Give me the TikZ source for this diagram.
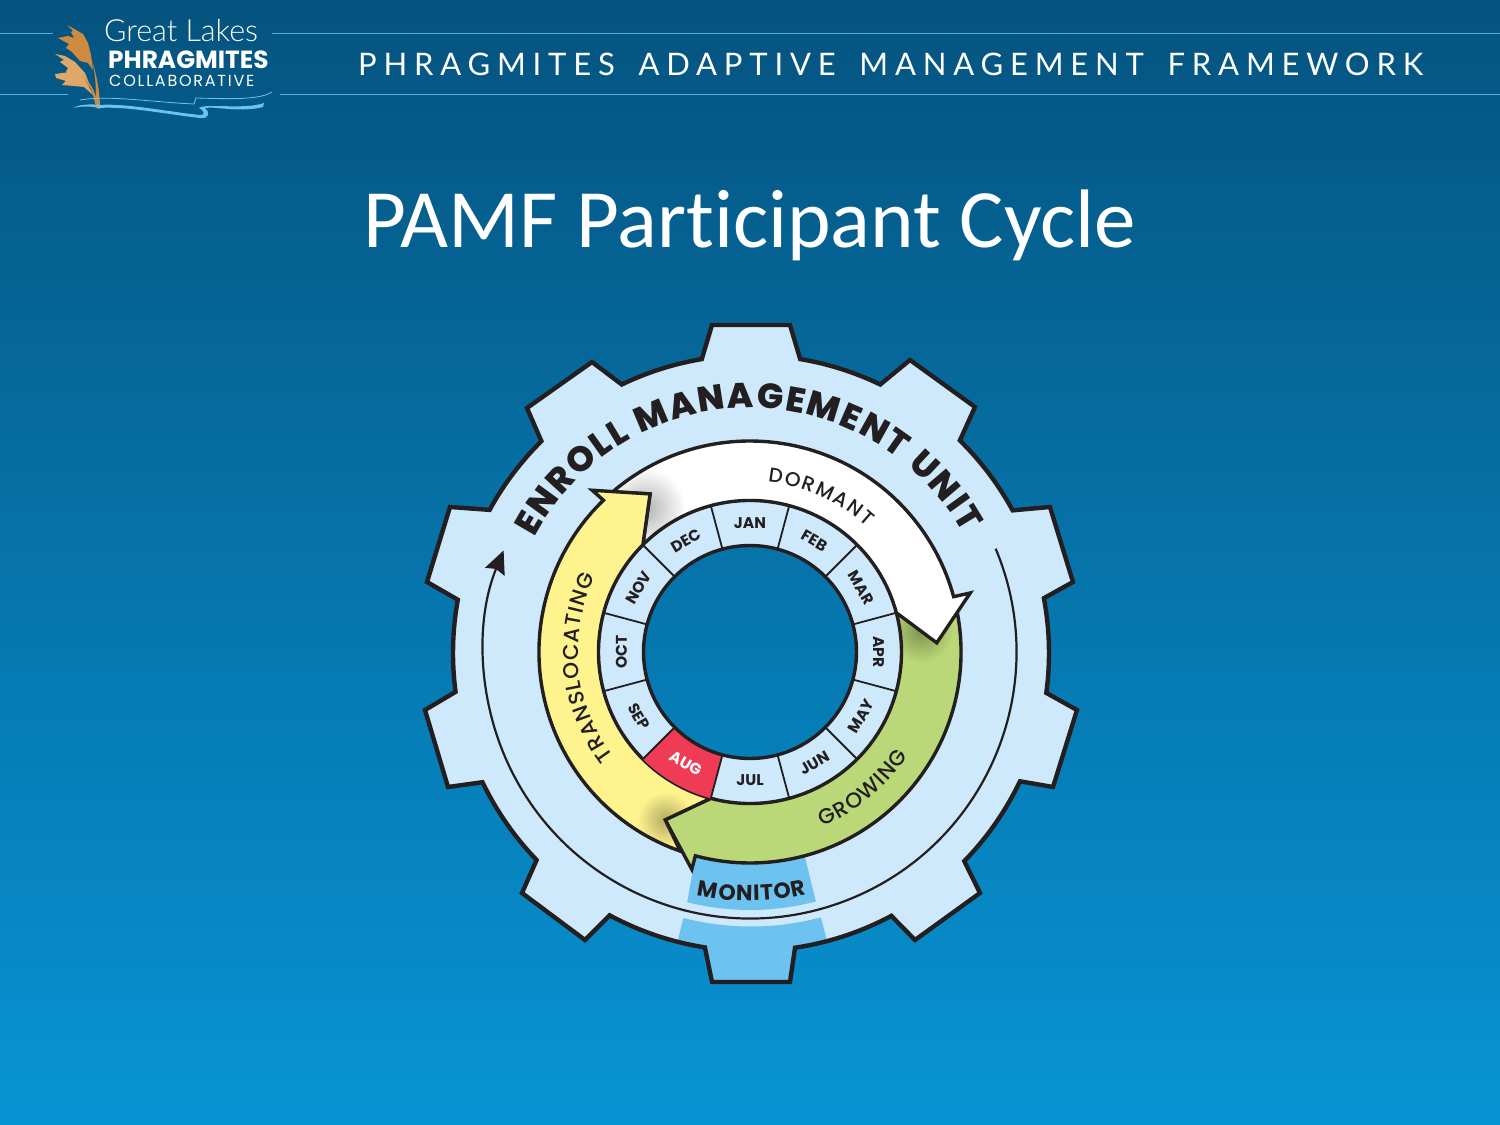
\documentclass[tikz,border=0pt]{standalone}
\usepackage{fontspec}
\usetikzlibrary{arrows.meta,decorations.text}
\setmainfont{Carlito}[Ligatures=NoCommon]
\newfontfamily\gearfont{Poppins}
\newfontfamily\gearmed{Poppins Medium}
\newfontfamily\gearheavy{Poppins ExtraBold}
\newfontfamily\headfont{Lato}[WordSpace=1.6]
\newfontfamily\logolight{Lato Light}
\definecolor{ink}{HTML}{231F20}
\definecolor{gearblue}{HTML}{CDE9FB}
\definecolor{monblue}{HTML}{6EC2F0}
\definecolor{ylw}{HTML}{FFF38E}
\definecolor{grn}{HTML}{BBD878}
\definecolor{augred}{HTML}{EF3B55}
\definecolor{bgtop}{HTML}{05537F}
\definecolor{bgbot}{HTML}{0794D4}
\definecolor{hline}{HTML}{55AEE0}
\definecolor{plumeA}{HTML}{CE8B40}
\definecolor{plumeB}{HTML}{DFA768}
\pgfdeclareradialshading{softwhite}{\pgfpointorigin}{color(0bp)=(black!30!white); color(25bp)=(white); color(50bp)=(white)}
\pgfdeclareradialshading{softgreen}{\pgfpointorigin}{color(0bp)=(black!32!grn); color(25bp)=(grn); color(50bp)=(grn)}
\pgfdeclareradialshading{softyellow}{\pgfpointorigin}{color(0bp)=(black!30!ylw); color(25bp)=(ylw); color(50bp)=(ylw)}
\tikzset{
  outline/.style={draw=ink,line width=3.4pt,line join=miter,miter limit=10},
  gearline/.style={draw=ink,line width=4.4pt,line join=miter,miter limit=10},
  divider/.style={draw=ink,line width=1.8pt},
  monthlabel/.style={font=\gearfont\bfseries\fontsize{15.5}{16}\selectfont,text=ink,inner sep=0pt},
}
\newcommand\gearoutline{(-39,328) -- (39,328) -- (80.5:298) arc[start angle=80.5,end angle=64.3,radius=298]
  -- (159,293) -- (224,246) -- (45.5:298) arc[start angle=45.5,end angle=28.6,radius=298]
  -- (299,146) -- (322,71) -- (10.6:298) arc[start angle=10.6,end angle=-7.7,radius=298]
  -- (326,-57) -- (302,-134) -- (-25.5:298) arc[start angle=-25.5,end angle=-44.3,radius=298]
  -- (229,-240) -- (164,-287) -- (-61.9:298) arc[start angle=-61.9,end angle=-81.5,radius=298]
  -- (39,-329) -- (-39,-329) -- (-98.9:298) arc[start angle=-98.9,end angle=-118.3,radius=298]
  -- (-166,-287) -- (-229,-240) -- (-136:298) arc[start angle=-136,end angle=-154.3,radius=298]
  -- (-303,-134) -- (-326,-57) -- (-172.5:298) arc[start angle=-172.5,end angle=-190.3,radius=298]
  -- (-324,71) -- (-301,146) -- (151.3:298) arc[start angle=151.3,end angle=134.7,radius=298]
  -- (-224,245) -- (-159,291) -- (115.7:298) arc[start angle=115.7,end angle=99.5,radius=298] -- cycle}
\newcommand\whitearrow{(130.6:211) arc[start angle=130.6,end angle=15.2,radius=211] -- (15:228) -- (2.8:187) -- (15:151.5)
  arc[start angle=15,end angle=135,radius=151.5] -- (122.3:187) -- cycle}
\newcommand\greenarrow{(15:211) arc[start angle=15,end angle=-105,radius=211] -- (255:225) -- (243.2:188) -- (255:151.5)
  arc[start angle=255,end angle=375,radius=151.5] -- cycle}
\newcommand\yellowarrow{(134.3:226) -- (122.3:187) -- (135:151.5) arc[start angle=135,end angle=255,radius=151.5]
  -- (243.2:188) -- (250.7:211) arc[start angle=250.7,end angle=134,radius=211] -- cycle}
\begin{document}
\begin{tikzpicture}[x=1pt,y=1pt]
\useasboundingbox (0,0) rectangle (1500,1125);
\shade[top color=bgtop,bottom color=bgbot] (0,0) rectangle (1500,1125);

% header and logo, in pixel coordinates
\begin{scope}[shift={(0,1125)},yscale=-1]
  \coordinate (la) at (0,34); \coordinate (lb) at (53,34);
  \coordinate (lc) at (272,34); \coordinate (ld) at (1500,34);
  \coordinate (le) at (0,95); \coordinate (lf) at (68,95);
  \coordinate (lg) at (280,95); \coordinate (lh) at (1500,95);
  \draw[hline,line width=1pt] (la) -- (lb) (lc) -- (ld) (le) -- (lf) (lg) -- (lh);
  \fill[plumeB] (55,54) -- (65,56) -- (75,62) -- (85,73) -- (91,88) -- (85,81) -- (75,79) -- (66,72) -- (68,68) -- (60,62) -- (64,60) -- cycle;
  \fill[plumeB] (55,74) -- (70,72) -- (80,75) -- (88,85) -- (93,95) -- (84,87) -- (74,86) -- (62,85) -- (66,81) -- (56,78) -- cycle;
  \fill[plumeA] (67,25) -- (76,30) -- (83,34) -- (88,43) -- (91,55) -- (93,70) -- (88,63) -- (80,61) -- (72,52) -- (66,48) -- (69,44) -- (58,38) -- (68,36) -- (74,38) -- (71,32) -- (73,31) -- cycle;
  \fill[plumeA] (92,60) .. controls (98,80) and (100,95) .. (100,109) -- (96,108) .. controls (93,92) and (90,84) .. (82,76) .. controls (91,83) and (94,90) .. (96,98) .. controls (96,85) and (95,72) .. cycle;
  \fill[monblue] (73,108) .. controls (80,104) and (92,104) .. (100,105) .. controls (125,103) and (170,112) .. (200,115) .. controls (206,116) and (204,110) .. (199,108) .. controls (205,103) and (245,110) .. (264,103) -- (263,107) .. controls (240,113) and (215,106) .. (205,108) .. controls (210,112) and (210,119) .. (200,118) .. controls (165,114) and (125,106) .. (100,108) .. controls (90,106) and (82,106) .. cycle;
  \draw[monblue,line width=.8pt] (80,100) .. controls (110,95) and (150,102) .. (194,104) -- (196,98) .. controls (230,99) and (260,100) .. (272,92);
  \node[inner sep=0pt,anchor=base west,text=white] (logoA) at (104,42) {\logolight\fontsize{30.5}{30}\selectfont Great Lakes};
  \node[inner sep=0pt,anchor=base west,text=white] (logoB) at (108,69) {\gearfont\bfseries\fontsize{24.8}{30}\selectfont PHRAGMITES};
  \node[inner sep=0pt,anchor=base west,text=white] (logoC) at (109,87) {\gearfont\fontsize{16}{20}\selectfont\addfontfeature{LetterSpace=11}COLLABORATIVE};
  \node[inner sep=0pt,anchor=base west,text=white] (head) at (358,76) {\headfont\fontsize{31}{34}\selectfont\addfontfeature{LetterSpace=22}PHRAGMITES ADAPTIVE MANAGEMENT FRAMEWORK};
  \node[inner sep=0pt,anchor=base,text=white] (title) at (750,248) {\fontsize{83}{90}\selectfont PAMF Participant Cycle};
\end{scope}

% gear body
\begin{scope}[shift={(751,472)}]
  \fill[gearblue,even odd rule] \gearoutline (-1,1) circle[radius=106.5];
  \begin{scope}
    \clip \gearoutline;
    \fill[monblue] (255.7:273.5) arc[start angle=255.7,end angle=284.8,radius=273.5] -- (284.8:420) -- (255.7:420) -- cycle;
  \end{scope}
  \path[gearline] \gearoutline;
\end{scope}

\begin{scope}[shift={(750,473)}]
  % cycle arrow
  \coordinate (cycA) at (22.8:266.5);
  \draw[ink,line width=2.2pt,-{Stealth[length=23pt,width=21pt,inset=3pt]}] (cycA) arc[start angle=22.8,end angle=-202.4,radius=266.5];

  % monitor band
  \fill[monblue] (-105:211) arc[start angle=-105,end angle=-75,radius=211] -- (-75.2:258) arc[start angle=-75.2,end angle=-104.1,radius=258] -- cycle;

  % three phases
  \fill[grn] \greenarrow;
  \begin{scope}\clip \greenarrow; \shade[shading=softgreen] (7:172) circle[radius=32]; \end{scope}
  \path[outline] \greenarrow;
  \fill[white] \whitearrow;
  \begin{scope}\clip \whitearrow; \shade[shading=softwhite] (126:178) circle[radius=40]; \end{scope}
  \path[outline] \whitearrow;
  \fill[ylw] \yellowarrow;
  \begin{scope}\clip \yellowarrow; \shade[shading=softyellow] (243.2:188) circle[radius=28]; \end{scope}
  \path[outline] \yellowarrow;

  % month ring
  \fill[augred] (-105:151.5) arc[start angle=-105,end angle=-135,radius=151.5] -- (-135:106.5) arc[start angle=-135,end angle=-105,radius=106.5] -- cycle;
  \foreach \a in {15,45,...,345} {\draw[divider] (\a:106.5) -- (\a:151.5);}
  \draw[outline] (0,0) circle[radius=106.5];
  \foreach \m/\a/\r in {JAN/90/0,FEB/60/-30,MAR/30/-60,APR/0/-90,MAY/-30/60,JUN/-60/30,JUL/-90/0,SEP/-150/-60,OCT/180/90,NOV/150/60,DEC/120/30}
    {\node[monthlabel,rotate=\r] (m\m) at (\a:128.5) {\m};}
  \node[monthlabel,rotate=-30,text=white] (mAUG) at (-120:128.5) {AUG};

  % curved labels
  \path[decorate,decoration={text along path,text align={fit to path},
    text={|\gearheavy\fontsize{35}{36}\selectfont\color{ink}|ENROLL MANAGEMENT UNIT}}]
    (152:244) arc[start angle=152,end angle=29,radius=244];
  \path[decorate,decoration={text along path,text align={fit to path},
    text={|\gearmed\fontsize{20}{20}\selectfont\color{ink}|DORMANT}}]
    (84:171) arc[start angle=84,end angle=47,radius=171];
  \path[decorate,decoration={text along path,text align={fit to path},
    text={|\gearmed\fontsize{21.5}{22}\selectfont\color{ink}|TRANSLOCATING}}]
    (217.3:172) arc[start angle=217.3,end angle=154,radius=172];
  \path[decorate,decoration={text along path,text align={fit to path},
    text={|\gearmed\fontsize{21.5}{22}\selectfont\color{ink}|GROWING}}]
    (-67.5:189) arc[start angle=-67.5,end angle=-33.3,radius=189];
  \path[decorate,decoration={text along path,text align={fit to path},
    text={|\gearfont\bfseries\fontsize{22}{24}\selectfont\color{ink}|MONITOR}}]
    (-102.3:249) arc[start angle=-102.3,end angle=-76.8,radius=249];
\end{scope}
\end{tikzpicture}
\end{document}
